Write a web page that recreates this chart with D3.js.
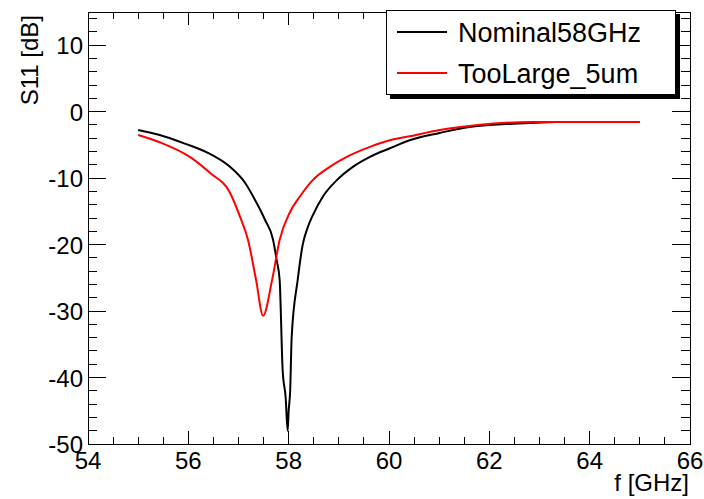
<!DOCTYPE html>
<html>
<head>
<meta charset="utf-8">
<script src="https://cdn.jsdelivr.net/npm/d3@7"></script>
<style>
  body { margin: 0; background: #fff; }
  svg { font-family: "Liberation Sans", Arial, sans-serif; }
</style>
</head>
<body>
<div id="chart"></div>
<script>
// S11 vs frequency, two simulated resonators
var nominalFreq = [55.0, 55.43, 55.93, 56.39, 56.83, 57.13, 57.33, 57.53, 57.69, 57.76, 57.82, 57.88, 57.94, 57.98, 58.0, 58.03, 58.06, 58.18, 58.28, 58.38, 58.48, 58.68, 58.96, 59.28, 59.62, 60.02, 60.41, 61.01, 61.6, 62.8, 63.34, 65.0];
var nominalS11 = [-2.75, -3.5, -4.8, -6.2, -8.3, -10.7, -13.3, -16.3, -19.3, -22.3, -25.3, -38.9, -43.0, -48.0, -45.0, -42.0, -33.9, -25.3, -20.0, -17.4, -15.6, -12.8, -10.3, -8.3, -6.8, -5.5, -4.3, -3.2, -2.3, -1.7, -1.55, -1.55];

var largeFreq = [55.0, 55.43, 56.03, 56.43, 56.83, 57.03, 57.19, 57.35, 57.49, 57.67, 57.82, 58.02, 58.22, 58.48, 58.82, 59.16, 59.62, 60.02, 60.41, 61.01, 61.6, 62.8, 65.0];
var largeS11 = [-3.5, -4.6, -6.8, -9.2, -12.2, -15.8, -19.3, -25.3, -30.7, -25.3, -19.3, -15.2, -12.8, -10.3, -8.3, -6.8, -5.3, -4.3, -3.7, -2.75, -2.15, -1.55, -1.55];

var seriesNames = ["Nominal58GHz", "TooLarge_5um"];
var seriesColors = ["#000000", "#ff0000"];
var xTicks = [54, 56, 58, 60, 62, 64, 66];
var yTicks = [-50, -40, -30, -20, -10, 0, 10];

var width = 704, height = 499;
var frameL = 88, frameR = 690, frameT = 12, frameB = 444;

var svg = d3.select("#chart").append("svg")
    .attr("width", width)
    .attr("height", height);

var x = d3.scaleLinear().domain([54, 66]).range([frameL, frameR]);
var y = d3.scaleLinear().domain([-50, 15]).range([frameB, frameT]);

/***** Frame and ticks *****/
var xMinor = d3.range(54, 66.01, 0.5);
var yMinor = d3.range(-50, 15.01, 2);

function tickLines(g, data, fn) {
  g.append("g").selectAll("line").data(data).enter().append("line")
    .attr("x1", (d) => fn(d)[0])
    .attr("y1", (d) => fn(d)[1])
    .attr("x2", (d) => fn(d)[2])
    .attr("y2", (d) => fn(d)[3])
    .attr("stroke", "#000")
    .attr("stroke-width", 1)
    .attr("shape-rendering", "crispEdges");
}

var ticks = svg.append("g");
var isMajorX = (d) => Math.abs(d / 2 - Math.round(d / 2)) < 1e-6;
var isMajorY = (d) => Math.abs(d / 10 - Math.round(d / 10)) < 1e-6;
tickLines(ticks, xMinor, (d) => { var l = isMajorX(d) ? 13 : 7; return [x(d), frameB, x(d), frameB - l]; });
tickLines(ticks, xMinor, (d) => { var l = isMajorX(d) ? 13 : 7; return [x(d), frameT, x(d), frameT + l]; });
tickLines(ticks, yMinor, (d) => { var l = isMajorY(d) ? 18 : 9; return [frameL, y(d), frameL + l, y(d)]; });
tickLines(ticks, yMinor, (d) => { var l = isMajorY(d) ? 18 : 9; return [frameR, y(d), frameR - l, y(d)]; });

svg.append("rect")
    .attr("x", frameL).attr("y", frameT)
    .attr("width", frameR - frameL).attr("height", frameB - frameT)
    .attr("fill", "none")
    .attr("stroke", "#000")
    .attr("shape-rendering", "crispEdges");

/***** Tick labels *****/
svg.append("g").selectAll("text").data(xTicks).enter().append("text")
    .attr("x", (d) => x(d))
    .attr("y", 469)
    .attr("text-anchor", "middle")
    .attr("font-size", 24)
    .text((d) => d);

svg.append("g").selectAll("text").data(yTicks).enter().append("text")
    .attr("x", 83)
    .attr("y", (d) => y(d) + 9)
    .attr("text-anchor", "end")
    .attr("font-size", 24)
    .text((d) => d);

svg.append("text")
    .attr("x", 689).attr("y", 491)
    .attr("text-anchor", "end")
    .attr("font-size", 24)
    .text("f [GHz]");

svg.append("text")
    .attr("transform", "translate(38,15) rotate(-90)")
    .attr("text-anchor", "end")
    .attr("font-size", 24)
    .text("S11 [dB]");

/***** Curves *****/
var line = d3.line()
    .x((d) => x(d[0]))
    .y((d) => y(d[1]))
    .curve(d3.curveMonotoneX);
var curves = [d3.zip(nominalFreq, nominalS11), d3.zip(largeFreq, largeS11)];

svg.append("g").selectAll("path").data(curves).enter().append("path")
    .attr("d", line)
    .attr("fill", "none")
    .attr("stroke", (d, i) => seriesColors[i])
    .attr("stroke-width", 2)
    .attr("stroke-linejoin", "round");

/***** Legend *****/
var lg = svg.append("g");
lg.append("rect").attr("x", 390).attr("y", 14).attr("width", 290).attr("height", 85).attr("fill", "#000");
lg.append("rect").attr("x", 386.5).attr("y", 10.5).attr("width", 289).attr("height", 84)
    .attr("fill", "#fff").attr("stroke", "#000");

var items = lg.selectAll("g.item").data(seriesNames).enter().append("g")
    .attr("class", "item")
    .attr("transform", (d, i) => "translate(0," + (32 + i * 41) + ")");
items.append("line")
    .attr("x1", 397).attr("x2", 447).attr("y1", 0).attr("y2", 0)
    .attr("stroke", (d, i) => seriesColors[i])
    .attr("stroke-width", 2);
items.append("text")
    .attr("x", 458).attr("y", 10)
    .attr("font-size", 27)
    .text((d) => d);
</script>
</body>
</html>
